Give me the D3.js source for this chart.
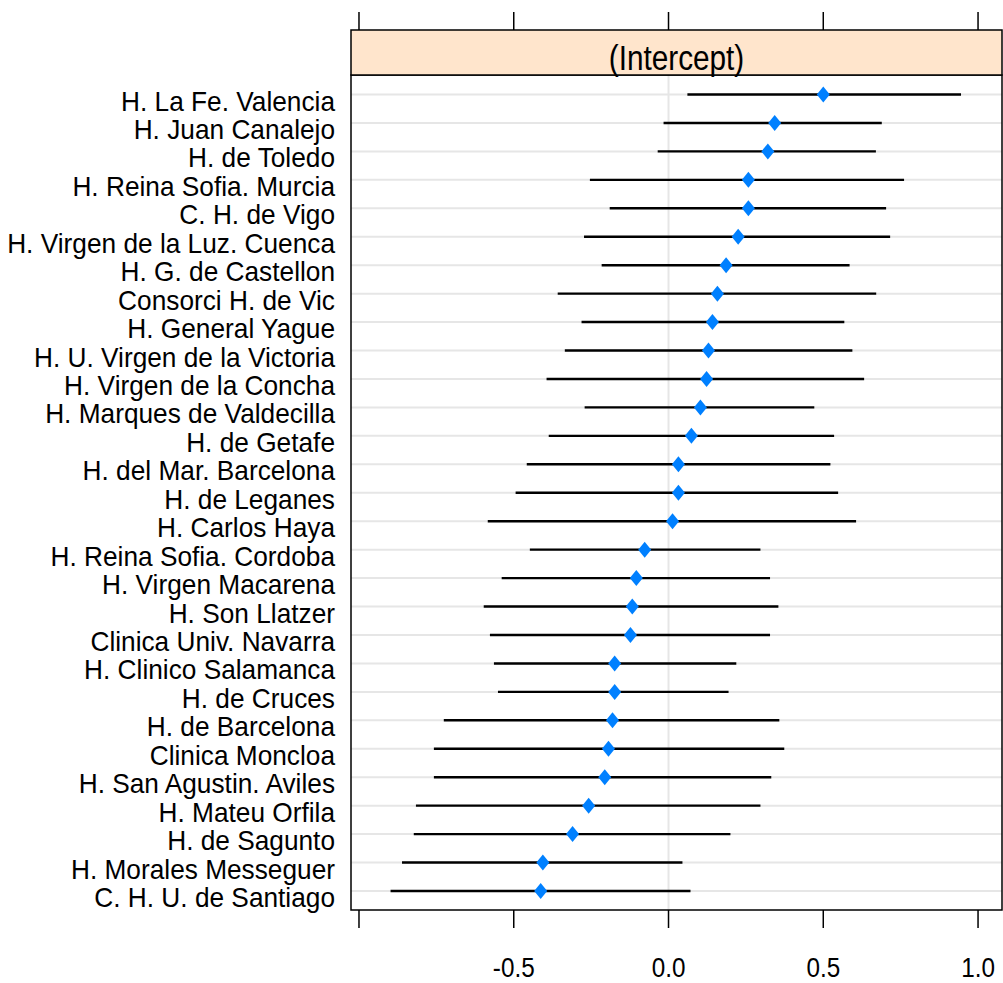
<!DOCTYPE html>
<html>
<head>
<meta charset="utf-8">
<script src="https://cdn.jsdelivr.net/npm/d3@7"></script>
<style>
  body { margin: 0; background: #fff; }
  text { font-family: "Liberation Sans Narrow", "Liberation Sans", Arial, sans-serif; }
</style>
</head>
<body>
<svg id="chart" width="1003" height="983"></svg>
<script>
const svg = d3.select("#chart");

// hospitals, top to bottom
const hospitals = [
  "H. La Fe. Valencia", "H. Juan Canalejo", "H. de Toledo", "H. Reina Sofia. Murcia",
  "C. H. de Vigo", "H. Virgen de la Luz. Cuenca", "H. G. de Castellon", "Consorci H. de Vic",
  "H. General Yague", "H. U. Virgen de la Victoria", "H. Virgen de la Concha",
  "H. Marques de Valdecilla", "H. de Getafe", "H. del Mar. Barcelona", "H. de Leganes",
  "H. Carlos Haya", "H. Reina Sofia. Cordoba", "H. Virgen Macarena", "H. Son Llatzer",
  "Clinica Univ. Navarra", "H. Clinico Salamanca", "H. de Cruces", "H. de Barcelona",
  "Clinica Moncloa", "H. San Agustin. Aviles", "H. Mateu Orfila", "H. de Sagunto",
  "H. Morales Messeguer", "C. H. U. de Santiago"
];
const estimate = [
  0.500, 0.343, 0.321, 0.258, 0.258, 0.225, 0.186, 0.158, 0.142, 0.129, 0.123,
  0.103, 0.074, 0.032, 0.032, 0.013, -0.077, -0.104, -0.117, -0.123, -0.174,
  -0.174, -0.181, -0.194, -0.206, -0.258, -0.310, -0.406, -0.413
];
const lower = [
  0.061, -0.016, -0.035, -0.254, -0.190, -0.273, -0.216, -0.358, -0.281, -0.335, -0.394,
  -0.271, -0.387, -0.458, -0.494, -0.584, -0.448, -0.539, -0.597, -0.577, -0.564,
  -0.551, -0.726, -0.758, -0.758, -0.816, -0.823, -0.861, -0.898
];
const upper = [
  0.945, 0.689, 0.670, 0.761, 0.703, 0.716, 0.585, 0.671, 0.568, 0.594, 0.632,
  0.471, 0.535, 0.523, 0.548, 0.606, 0.297, 0.328, 0.355, 0.328, 0.219,
  0.194, 0.358, 0.374, 0.332, 0.297, 0.200, 0.045, 0.071
];
const ticks = [-1.0, -0.5, 0.0, 0.5, 1.0];
const tickLabels = ["", "-0.5", "0.0", "0.5", "1.0"];
const stripLabel = "(Intercept)";

const panel = { left: 351, right: 1002, top: 75, bottom: 910 };
const stripTop = 30;

const x = d3.scaleLinear()
  .domain([-1.0258, 1.0774])
  .range([panel.left, panel.right]);

const y = d3.scalePoint()
  .domain(hospitals)
  .range([94.5, 891]);

const data = hospitals.map((h, i) => ({ h, est: estimate[i], lo: lower[i], hi: upper[i] }));

// row reference lines
svg.append("g").selectAll("line")
  .data(hospitals).enter().append("line")
  .attr("x1", panel.left).attr("x2", panel.right)
  .attr("y1", d => y(d)).attr("y2", d => y(d))
  .attr("stroke", "#e6e6e6").attr("stroke-width", 2);

// zero line
svg.append("line")
  .attr("x1", x(0)).attr("x2", x(0))
  .attr("y1", panel.top).attr("y2", panel.bottom)
  .attr("stroke", "#e6e6e6").attr("stroke-width", 2);

// intervals
svg.append("g").selectAll("line")
  .data(data).enter().append("line")
  .attr("x1", d => x(d.lo)).attr("x2", d => x(d.hi))
  .attr("y1", d => y(d.h)).attr("y2", d => y(d.h))
  .attr("stroke", "#000").attr("stroke-width", 2.4);

// points
svg.append("g").selectAll("path")
  .data(data).enter().append("path")
  .attr("transform", d => `translate(${x(d.est)},${y(d.h)})`)
  .attr("d", "M0,-8L6.5,0L0,8L-6.5,0Z")
  .attr("fill", "#0080ff");

// panel box
svg.append("rect")
  .attr("x", panel.left).attr("y", panel.top)
  .attr("width", panel.right - panel.left).attr("height", panel.bottom - panel.top)
  .attr("fill", "none").attr("stroke", "#000").attr("stroke-width", 1.5);

// strip
svg.append("rect")
  .attr("x", panel.left).attr("y", stripTop)
  .attr("width", panel.right - panel.left).attr("height", panel.top - stripTop)
  .attr("fill", "#ffe5cc").attr("stroke", "#000").attr("stroke-width", 1.5);
svg.append("text")
  .attr("transform", `translate(${(panel.left + panel.right) / 2},70) scale(0.85,1)`)
  .attr("text-anchor", "middle")
  .attr("font-size", 35)
  .text(stripLabel);

// ticks top and bottom
const tickG = svg.append("g");
tickG.selectAll(".tt").data(ticks).enter().append("line")
  .attr("x1", d => x(d)).attr("x2", d => x(d))
  .attr("y1", 12).attr("y2", stripTop)
  .attr("stroke", "#000").attr("stroke-width", 1.5);
tickG.selectAll(".tb").data(ticks).enter().append("line")
  .attr("x1", d => x(d)).attr("x2", d => x(d))
  .attr("y1", panel.bottom).attr("y2", panel.bottom + 18)
  .attr("stroke", "#000").attr("stroke-width", 1.5);
tickG.selectAll("text").data(ticks).enter().append("text")
  .attr("transform", d => `translate(${x(d)},977) scale(0.9,1)`)
  .attr("text-anchor", "middle")
  .attr("font-size", 27)
  .text((d, i) => tickLabels[i]);

// row labels
svg.append("g").selectAll("text")
  .data(hospitals).enter().append("text")
  .attr("transform", d => `translate(335,${y(d) + 16}) scale(0.955,1)`)
  .attr("text-anchor", "end")
  .attr("font-size", 27.5)
  .text(d => d);
</script>
</body>
</html>
